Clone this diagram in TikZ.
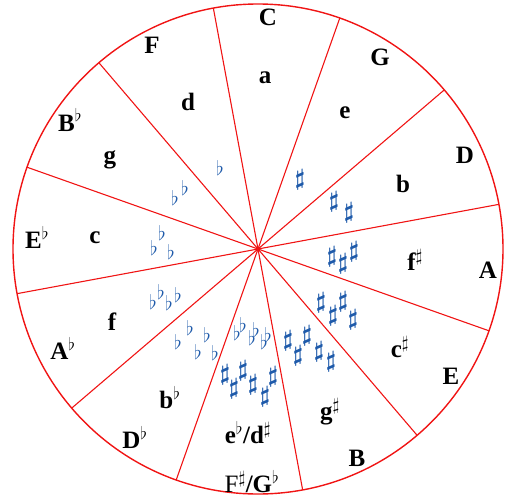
\RequirePackage{fix-cm}
\documentclass[tikz,border=0pt]{standalone}
\usepackage{fontspec}
\setmainfont{Liberation Serif}
\usepackage{tikz}
\usetikzlibrary{positioning}
\definecolor{wheelred}{RGB}{240,20,20}
\definecolor{accblue}{RGB}{30,90,170}

\begin{document}
\begin{tikzpicture}[
  x=1pt, y=1pt,
  keylab/.style={font=\fontsize{25}{28}\selectfont\bfseries, inner sep=0pt},
  sharpsign/.style={font=\fontsize{23}{26}\selectfont\boldmath, text=accblue, inner sep=0pt},
  flatsign/.style={font=\fontsize{20}{24}\selectfont, text=accblue, inner sep=0pt},
  wheel/.style={draw=wheelred, line width=1.4pt}
]
  \useasboundingbox (-258,-249) rectangle (258,249);
  \coordinate (O) at (0,0);

  % circle and sector rays
  \draw[wheel] (O) circle (245);
  \foreach \a [count=\i] in {10.5,40.5,...,340.5}
    \draw[wheel, line width=1.1pt] (O) -- (\a:245) coordinate (rim\i);

  % major keys
  \node[keylab] (majC)  at (10,232)    {C};
  \node[keylab] (majG)  at (122,192)   {G};
  \node[keylab] (majD)  at (207,94)    {D};
  \node[keylab] (majA)  at (230,-21)   {A};
  \node[keylab] (majE)  at (193,-127)  {E};
  \node[keylab] (majB)  at (99,-209)   {B};
  \node[keylab] (majFs) at (-6,-233)   {\mdseries F$^\sharp$\bfseries/G$^\flat$};
  \node[keylab] (majDb) at (-123,-188) {D$^\flat$};
  \node[keylab] (majAb) at (-195,-99)  {A$^\flat$};
  \node[keylab] (majEb) at (-221,12)   {E$^\flat$};
  \node[keylab] (majBb) at (-188,129)  {B$^\flat$};
  \node[keylab] (majF)  at (-106,204)  {F};

  % minor keys
  \node[keylab] (minA)  at (7,171)     {a};
  \node[keylab] (minE)  at (87,136)    {e};
  \node[keylab] (minB)  at (145,65)    {b};
  \node[keylab] (minFs) at (157,-11)   {f$^\sharp$};
  \node[keylab] (minCs) at (142,-98)   {c$^\sharp$};
  \node[keylab] (minGs) at (72,-163)   {g$^\sharp$};
  \node[keylab] (minEb) at (-10,-184)  {e$^\flat$/d$^\sharp$};
  \node[keylab] (minBb) at (-88,-149)  {b$^\flat$};
  \node[keylab] (minF)  at (-146,-73)  {f};
  \node[keylab] (minC)  at (-163,11)   {c};
  \node[keylab] (minG)  at (-148,89)   {g};
  \node[keylab] (minD)  at (-70,147)   {d};

  % key signatures: sharps
  \foreach \x/\y [count=\i] in {42/69,
      76/47, 91/36,
      74/-8, 85/-15, 96/-3,
      63/-54, 75/-67, 85/-53, 95/-71,
      30/-92, 40/-107, 49/-87, 61/-103, 73/-113,
      -33/-126, -24/-140, -15/-122, -5/-136, 7/-148, 15/-128}
    \node[sharpsign] (sh\i) at (\x,\y) {$\sharp$};

  % key signatures: flats
  \foreach \x/\y [count=\i] in {-38/81,
      -83/51, -73/61,
      -104/1, -96/16, -87/-3,
      -105/-53, -97/-43, -89/-54, -80/-46,
      -80/-93, -68/-79, -60/-103, -51/-86, -43/-104,
      -21/-84, -15/-76, -6/-89, -2/-81, 6/-93, 10/-86}
    \node[flatsign] (fl\i) at (\x,\y) {$\flat$};

\end{tikzpicture}
\end{document}
